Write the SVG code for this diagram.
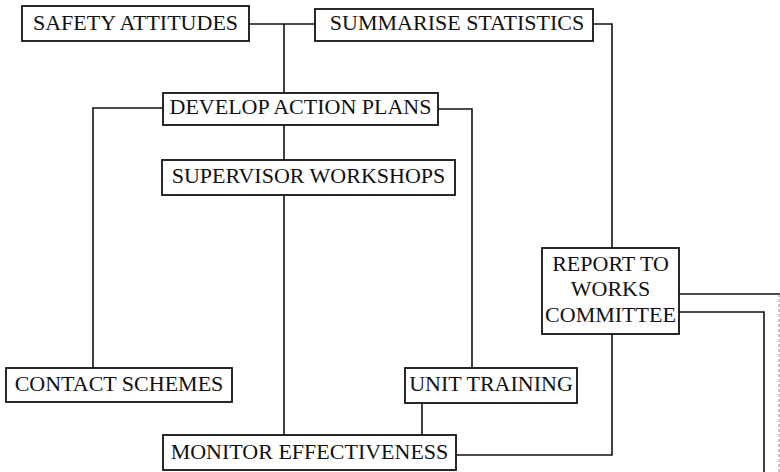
<svg xmlns="http://www.w3.org/2000/svg" width="780" height="472" viewBox="0 0 780 472">
<style>
.box{fill:#fff;stroke:#111;stroke-width:1.8}
.t{font-family:"Liberation Serif","Times New Roman",serif;font-size:22px;fill:#111;text-anchor:middle}
.c{fill:none;stroke:#111;stroke-width:1.6}
</style>
<rect width="780" height="472" fill="#fff"/>
<g id="connectors">
<path class="c" d="M249,24 H317"/>
<path class="c" d="M284,24 V93"/>
<path class="c" d="M593,24 H612 V248"/>
<path class="c" d="M163,108 H93 V368"/>
<path class="c" d="M438,109 H472 V368"/>
<path class="c" d="M284,125 V160"/>
<path class="c" d="M284,195 V435"/>
<path class="c" d="M422,403 V435"/>
<path class="c" d="M456,455 H612 V334"/>
<path class="c" d="M679,294 H780"/>
<path d="M779,294 V472" fill="none" stroke="#888" stroke-width="1" stroke-dasharray="3,2"/>
<path class="c" d="M679,312 H764 V472"/>
</g>
<g id="safety-attitudes"><rect class="box" x="22" y="6" width="227" height="35"/><text class="t" x="135.5" y="30">SAFETY ATTITUDES</text></g>
<g id="summarise-statistics"><rect class="box" x="315" y="9" width="278" height="32"/><text class="t" x="457" y="30">SUMMARISE STATISTICS</text></g>
<g id="develop-action-plans"><rect class="box" x="163" y="93" width="275" height="32"/><text class="t" x="300.5" y="114">DEVELOP ACTION PLANS</text></g>
<g id="supervisor-workshops"><rect class="box" x="162" y="160" width="293" height="35"/><text class="t" x="308.5" y="183">SUPERVISOR WORKSHOPS</text></g>
<g id="report-to-works-committee"><rect class="box" x="542" y="248" width="137" height="86"/><text class="t" x="610.5" y="271">REPORT TO</text><text class="t" x="610.5" y="296">WORKS</text><text class="t" x="610.5" y="322">COMMITTEE</text></g>
<g id="contact-schemes"><rect class="box" x="6" y="368" width="226" height="34"/><text class="t" x="119" y="391">CONTACT SCHEMES</text></g>
<g id="unit-training"><rect class="box" x="405" y="368" width="172" height="35"/><text class="t" x="491" y="391">UNIT TRAINING</text></g>
<g id="monitor-effectiveness"><rect class="box" x="163" y="435" width="293" height="35"/><text class="t" x="309.5" y="459">MONITOR EFFECTIVENESS</text></g>
</svg>
